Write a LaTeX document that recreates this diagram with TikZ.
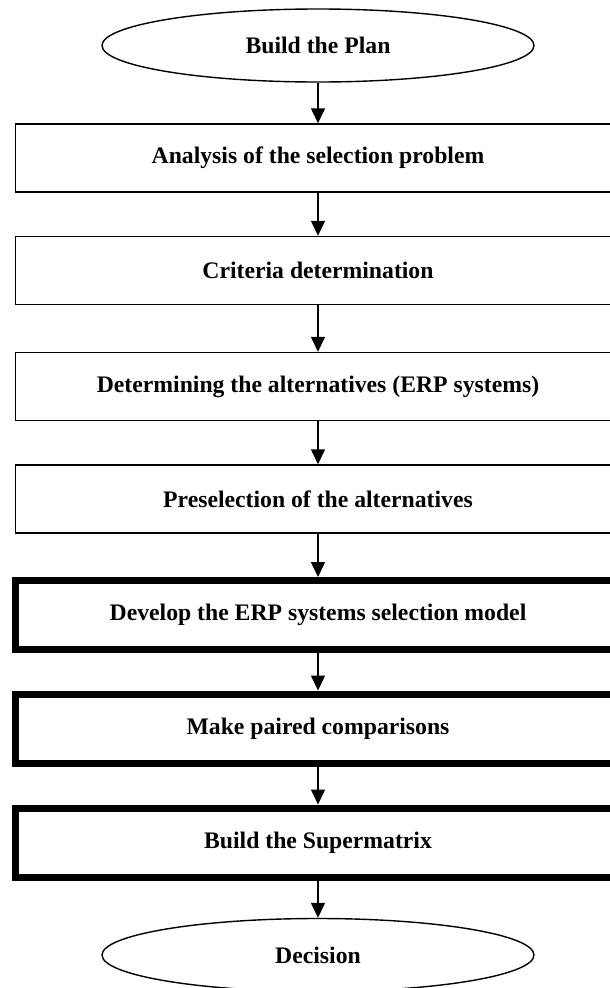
\documentclass[tikz,border=0pt]{standalone}
\usepackage{fontspec}
\setmainfont{Liberation Serif}
\usetikzlibrary{shapes.geometric,arrows.meta}
\tikzset{
  lbl/.style={font=\fontsize{23.7}{28}\selectfont\bfseries, text=black},
  thinbox/.style={lbl, draw=black, line width=1.4pt, rectangle, minimum width=604.5pt, minimum height=68pt, inner sep=0pt},
  thickbox/.style={lbl, draw=black, line width=7pt, rectangle, minimum width=604.5pt, minimum height=69pt, inner sep=0pt},
  term/.style={lbl, draw=black, line width=1.4pt, ellipse, minimum width=432pt, minimum height=73pt, inner sep=0pt},
  arr/.style={draw=black, line width=1.4pt, -{Triangle[width=14pt,length=15pt]}}
}
\begin{document}
\begin{tikzpicture}[x=1pt,y=-1pt]
\useasboundingbox (0,0) rectangle (610,988);
\clip (0,0) rectangle (610,988);
\fill[white] (0,0) rectangle (610,988);
\node[term] (start) at (318,45.5) {Build the Plan};
\node[thinbox] (b1) at (318,158) {Analysis of the selection problem};
\node[thinbox] (b2) at (318,270.5) {Criteria determination};
\node[thinbox] (b3) at (318,386.5) {Determining the alternatives (ERP systems)};
\node[thinbox] (b4) at (318,499) {Preselection of the alternatives};
\node[thickbox] (b5) at (318,615) {Develop the ERP systems selection model};
\node[thickbox] (b6) at (318,728.5) {Make paired comparisons};
\node[thickbox] (b7) at (318,842.5) {Build the Supermatrix};
\node[term] (end) at (318,955) {Decision};
\draw[arr] (start) -- (b1);
\draw[arr] (b1) -- (b2);
\draw[arr] (b2) -- (b3);
\draw[arr] (b3) -- (b4);
\draw[arr] (b4) -- (b5);
\draw[arr] (b5) -- (b6);
\draw[arr] (b6) -- (b7);
\draw[arr] (b7) -- (end);
\end{tikzpicture}
\end{document}
